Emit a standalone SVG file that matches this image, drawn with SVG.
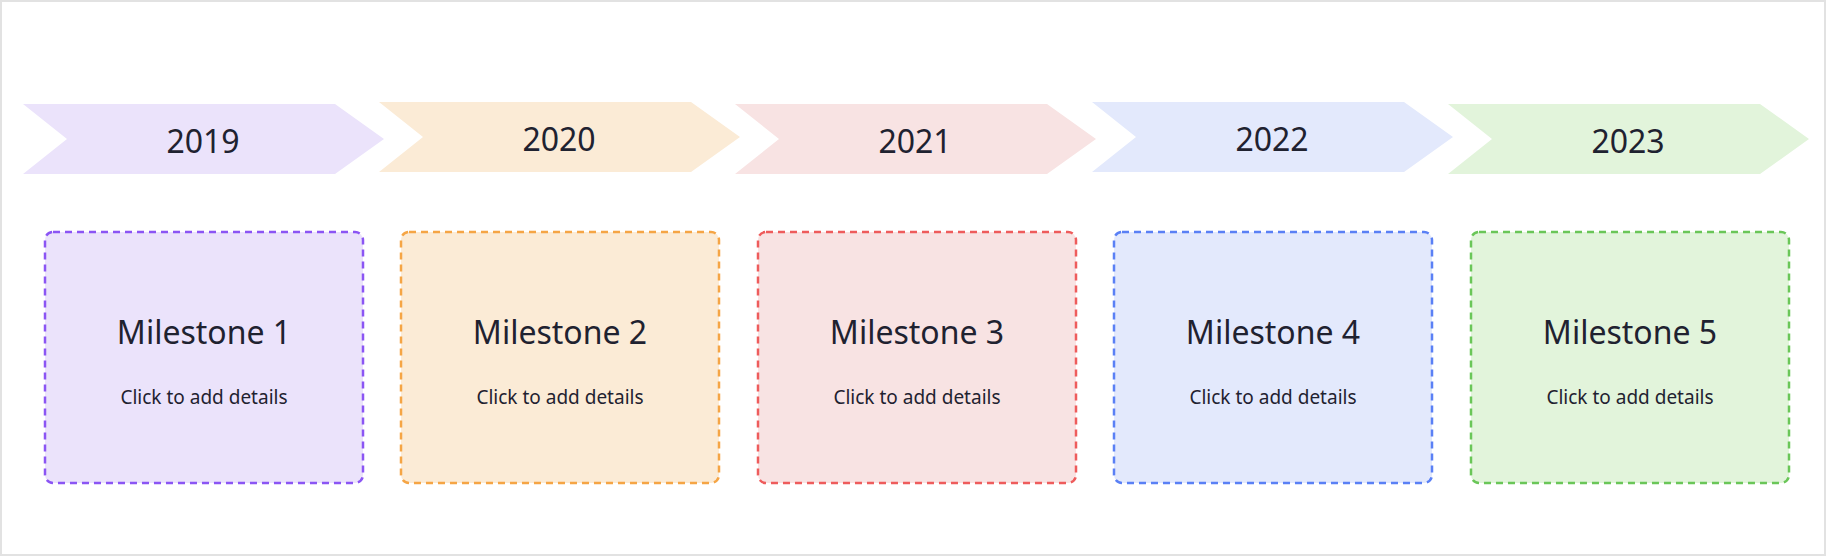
<svg xmlns="http://www.w3.org/2000/svg" width="1826" height="556" viewBox="0 0 1826 556">
<style>
.yr{font-family:"Noto Sans","Open Sans",sans-serif;font-size:32px;fill:#1f2230;text-anchor:middle}
.ms{font-family:"Noto Sans","Open Sans",sans-serif;font-size:32px;fill:#1f2230;text-anchor:middle}
.dt{font-family:"Noto Sans","Open Sans",sans-serif;font-size:19px;fill:#1f2230;text-anchor:middle}
.box{stroke-width:2.5;stroke-dasharray:7 5}
</style>
<defs><path id="chev" d="M0 0 H312 L361 35 L312 70 H0 L44 35 Z"/></defs>
<rect x="1" y="1" width="1824" height="554" fill="#fff" stroke="#e2e2e2" stroke-width="2"/>
<g id="year-2019"><use href="#chev" x="23" y="104" fill="#ebe3fb"/><text class="yr" x="203" y="153">2019</text></g>
<g id="year-2020"><use href="#chev" x="379" y="102" fill="#fbebd6"/><text class="yr" x="559" y="151">2020</text></g>
<g id="year-2021"><use href="#chev" x="735" y="104" fill="#f8e3e3"/><text class="yr" x="915" y="153">2021</text></g>
<g id="year-2022"><use href="#chev" x="1092" y="102" fill="#e3e9fc"/><text class="yr" x="1272" y="151">2022</text></g>
<g id="year-2023"><use href="#chev" x="1448" y="104" fill="#e2f4db"/><text class="yr" x="1628" y="153">2023</text></g>
<g id="m1"><rect class="box" x="45" y="232" width="318" height="251" rx="8" fill="#ebe3fb" stroke="#8b55f4"/><text class="ms" x="204" y="344">Milestone 1</text><text class="dt" x="204" y="404">Click to add details</text></g>
<g id="m2"><rect class="box" x="401" y="232" width="318" height="251" rx="8" fill="#fbebd6" stroke="#f5a545"/><text class="ms" x="560" y="344">Milestone 2</text><text class="dt" x="560" y="404">Click to add details</text></g>
<g id="m3"><rect class="box" x="758" y="232" width="318" height="251" rx="8" fill="#f8e3e3" stroke="#ee5c5c"/><text class="ms" x="917" y="344">Milestone 3</text><text class="dt" x="917" y="404">Click to add details</text></g>
<g id="m4"><rect class="box" x="1114" y="232" width="318" height="251" rx="8" fill="#e3e9fc" stroke="#5a80f5"/><text class="ms" x="1273" y="344">Milestone 4</text><text class="dt" x="1273" y="404">Click to add details</text></g>
<g id="m5"><rect class="box" x="1471" y="232" width="318" height="251" rx="8" fill="#e2f4db" stroke="#6ac658"/><text class="ms" x="1630" y="344">Milestone 5</text><text class="dt" x="1630" y="404">Click to add details</text></g>
<g id="connectors"></g>
</svg>
